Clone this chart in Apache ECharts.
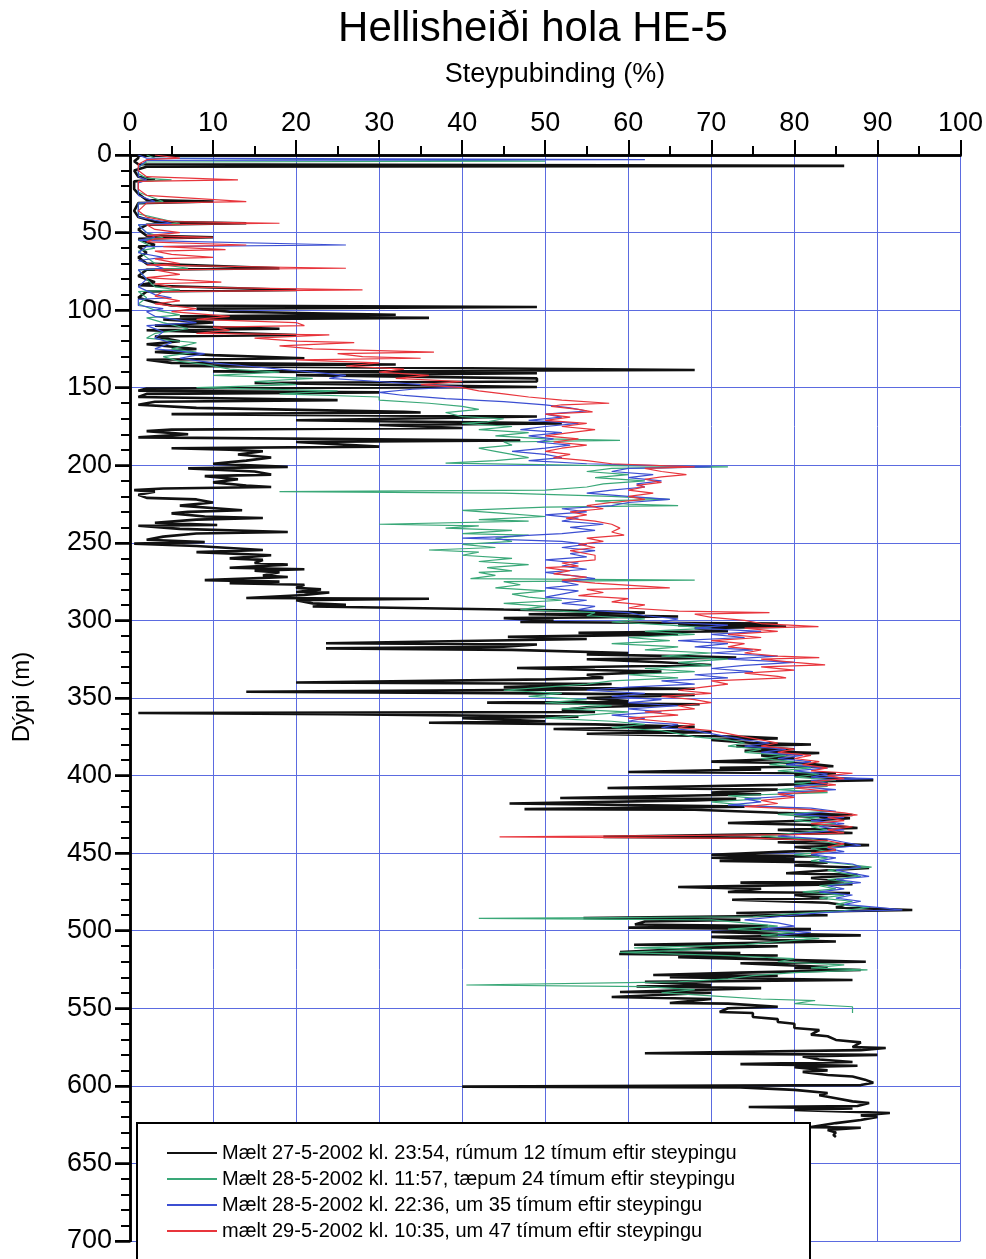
<!DOCTYPE html>
<html><head><meta charset="utf-8">
<script src="https://cdn.jsdelivr.net/npm/echarts@6/dist/echarts.min.js"></script>
<style>html,body{margin:0;padding:0;background:#fff}#c{width:986px;height:1259px}</style>
</head><body><div id="c"></div>
<script>
const title = 'Hellisheiði hola HE-5';
const xTitle = 'Steypubinding (%)';
const yTitle = 'Dýpi (m)';
const seriesNames = [
  'Mælt 27-5-2002 kl. 23:54, rúmum 12 tímum eftir steypingu',
  'Mælt 28-5-2002 kl. 11:57, tæpum 24 tímum eftir steypingu',
  'Mælt 28-5-2002 kl. 22:36, um 35 tímum eftir steypingu',
  'mælt 29-5-2002 kl. 10:35, um 47 tímum eftir steypingu'
];
// [depth (m), bond (%)]
const black = [[0,1],[2,1],[4,0.5],[6,1],[7,86],[7.5,2],[10,0.5],[14,1],[16,3],[17,0.5],[22,0.5],[25,1],[29,2],[30,10],[31,1],[36,0.5],[40,1],[43,3],[44,14],[45,2],[48,1],[52,2],[53,10],[54,1],[58,3],[59,1],[63,2],[66,1],[70,2],[73,18],[74,2],[78,1],[82,3],[84,1],[87,20],[88,2],[92,1],[95,3],[97,5],[98,49],[99,8],[101,12],[103,32],[104,6],[105,36],[106,4],[108,10],[110,3],[112,18],[113,2],[116,20],[117,3],[120,6],[122,2],[125,8],[127,3],[129,10],[131,21],[132,2],[134,5],[135,32],[136,6],[138.6,68],[139.5,10],[140.7,49],[142,20],[144,49],[146,49],[147,15],[149.5,49],[150.5,2],[152,1],[153,30],[154,2],[156,1],[158,25],[159,3],[161,1],[163,8],[165.6,33],[166,35],[167,5],[168.6,49],[169.6,48.8],[171,20],[173,52],[174,30],[176,40],[177,5],[178,2],[180,7],[182,1],[184,47],[185,20],[188,30],[189,5],[190,12],[191,16],[193,13],[195,17],[197,14],[199,10],[201,19],[202,7],[204,15],[206,17],[207,9],[209,13],[211,10],[213,14],[214,17],[215,4],[216,0.5],[217,3],[219,1],[221,2],[222,8],[224,10],[226,6],[229,13.5],[230,7],[231,5],[233,9],[234,16],[235,8],[237,3],[238.5,10.5],[239,1],[241,6],[243,19],[244,8],[246,4],[248,2],[249.5,9],[250.5,0.5],[252,8],[254.6,16],[256,8],[258,17],[260,12],[261,16],[263,15],[264,19],[266,12],[267,21],[268,15],[269,18],[271,16],[272,19],[274,9],[275,18],[276,12],[277,21],[279,20],[280,23],[281.7,20],[282,24],[283.6,21],[285.5,14],[286,36],[287,20],[289,22],[290,26],[291,22],[293,45],[293.5,51],[295,62],[296,48],[297.5,66],[298.5,45],[300,51],[301,47],[302,78],[303,66],[304,79],[305,68],[307,72],[308,54],[309,66],[310.6,45.5],[312,55],[314.7,23.6],[315.5,49],[317,45],[318,23.6],[319,46],[321,60],[322,55],[323,66],[324,73],[325,55],[327,64],[328.7,70],[330,55],[330.7,46.6],[332,56],[333,64],[335,55],[337,57],[338,50],[340,20],[341,58],[343,45],[344,68],[346,14],[347,49],[348,68],[350,55],[352,60],[353,43],[354,68.6],[356,55],[357.7,52],[359,56],[359.7,1],[360.5,25],[362,54],[363,40],[365,50],[366,36],[367,56],[368.6,68],[370,51],[372,70],[373,55],[375,74],[376,78],[377,70],[379,75],[380,82],[381,73],[383,80],[384,74],[385.5,83],[387,76],[389,80],[391,70],[392,81],[394,84.7],[395,71],[396,76],[397.7,60],[398.5,85],[400,80],[401,83],[403,89.5],[404,80],[405,84],[406,78],[408,57.5],[409,78],[411,70],[412,76],[414.5,51.8],[415,73],[416,68],[418,45.7],[419,60],[420,74],[421.6,47.5],[422,68],[424,78],[425.4,87],[426,80],[427.5,86.7],[429,82],[430.6,72],[432,84],[433.8,87.6],[435,78],[437,87],[438,74],[439.5,57],[440,74],[441.5,84],[443,78],[444.8,89],[446,80],[448,85],[449,79],[451,70],[452,83],[453,70],[454,80],[455,71],[456,84],[458,80],[459.6,89],[461,84],[463,79],[464,87.6],[466,82],[468,86],[469,73.5],[470,87],[471.8,66],[473,76],[475,72],[475.7,86.7],[477,80],[479,84],[480,72.5],[482,84],[483.4,86],[485,85],[486.6,94.2],[487.5,85],[488.6,73],[490,84],[491.8,54.6],[493,73.5],[494,62],[496,60.8],[497,76.8],[498,60],[499,82],[500.8,70],[502,78],[503,88],[504,70],[506,78],[507,85],[509,60.7],[510,78],[511,70],[513.7,59],[514.4,73.5],[515,58.9],[516,78],[517,66],[518,73],[520,88.6],[521,73.5],[523.4,84],[524,80],[525.3,88],[527,73.5],[528.5,63],[529,78],[530,65],[531.8,87],[533,62],[535,70],[536,61],[537,76],[539.5,59],[540,70],[542.7,58],[544,70],[546.6,65],[547,72],[549,78],[550,72],[552.4,71],[553,75],[555.6,75],[557,78],[558.8,78],[560,80],[562.7,80],[564,83],[567,82],[568,84],[570.4,85],[572,88],[575,87],[575.6,91],[577,88],[579,62],[580,90],[581,81],[583,83],[584.6,87],[586,73.5],[587,87.6],[588,80],[590,84],[591,81],[593,84],[594,87],[596,88.5],[598,89.5],[599.5,88],[600.5,40],[601,73.5],[602.6,80],[604.6,84],[606,83],[608,85],[610,87],[611,89],[613,87.6],[613.6,74.5],[614.5,87],[615.5,80],[617.5,91.5],[619,88],[620,90],[622,88],[624,85],[626.6,82],[627,88],[628.5,84],[630,85],[631.7,84.7],[633,85]];
const green = [[0,2],[2,3],[4,50],[4.5,2],[8,1],[12,1],[15,2],[16,5],[17,1],[24,1],[30,4],[31,1],[38,1],[44,6],[45,1],[50,2],[53,4],[55,1],[60,3],[62,1],[66,2],[70,3],[73,7],[74,1],[80,2],[85,3],[87,6],[88,1],[92,2],[96,1],[100,3],[103,6],[105,2],[108,4],[112,7],[115,3],[118,2],[121,8],[125,5],[127,8],[130,4],[133,6],[135,9],[138,12],[140,18],[142,10],[144,22],[146,15],[148,20],[150,8],[152,25],[154,18],[156,30],[158,30],[160,36],[162,40],[164,42],[166,38],[168.6,40],[170,45],[172,43],[173,40],[175,46],[177,42],[179,48],[181,44],[183,50],[184,59],[185,45],[187,46],[189,42],[191,44],[193,46],[195,48],[197,44],[198.6,38],[200,55],[201,72],[202,58],[204,55],[206,60],[208,56],[210,62],[212,57],[214,55],[216,50],[217,18],[218,45],[220,58],[222,65],[223,56],[225,60],[226,66],[227,50],[229,40],[231,45],[233,50],[235,42],[236,48],[238,30],[239,42],[240.5,38],[242,46],[244,40],[245,48],[247,44],[249,46],[251,40],[253,44],[254.6,36],[256,42],[258,40],[260,46],[262,42],[264,48],[266,43],[268,46],[269,42],[271,44],[273,41],[274,68],[275,45],[277,47],[279,44],[281,50],[283,46],[285,48],[287,52],[289,45],[291,50],[293,47],[295,56],[297,55],[299,62],[301,58],[303,65],[305,70],[307,62],[309,68],[311,60],[313,65],[315,58],[317,66],[319,62],[321,70],[323,64],[325,72],[327,66],[329,70],[331,62],[333,68],[335,60],[337,66],[339,58],[341,55],[343,50],[345,45],[347,52],[349,48],[351,55],[353,50],[355,58],[357,52],[359,60],[361,55],[363,50],[365,58],[367,62],[369,58],[371,64],[373,66],[375,68],[377,72],[379,74],[381,72],[383,76],[385,74],[387,79],[389,76],[391,80],[393,77],[395,82],[397,78],[399,83],[401,80],[403,85],[405,80],[407,84],[409,78],[411,84],[413,72],[415,76],[417,70],[419,74],[421,80],[423,84],[425,78],[427,83],[429,80],[431,85],[433,82],[435,84],[437,80],[439,76],[441,82],[443,84],[445,86],[447,82],[449,84],[451,80],[453,84],[455,82],[457,86],[459,89.3],[461,84],[463,86],[465,88],[467,84],[469,87],[471,83],[473,85],[475,81],[477,86],[479,83],[481,87],[483,85],[485,89],[487,86],[489,80],[491,75],[492,42],[493,70],[495,74],[497,78],[499,72],[501,80],[503,76],[505,83],[507,78],[509,74],[511,60.7],[512,70],[514,59],[516,72],[518,80],[520,78],[522,86],[524,82],[525.3,88.8],[527,80],[529,75],[531,72],[533,66],[535,40.5],[536,62],[538,68],[540,64],[542,70],[544,76],[545,82.5],[547,80],[549,87],[553,87]];
const blue = [[0,1],[2,2],[3,62],[3.5,2],[8,1],[14,1],[16,2],[18,1],[26,1],[30,3],[31,1],[40,1],[44,5],[45,1],[50,2],[53,3],[55,1],[58,26],[59,2],[63,1],[66,4],[68,1],[73,4],[74,1],[80,2],[85,1],[90,3],[92,5],[93,1],[97,1],[99,4],[101,2],[104,3],[108,8],[110,2],[114,4],[118,3],[121,5],[125,3],[128,9],[131,6],[134,10],[136,14],[138,18],[140,22],[142,26],[144,24],[146,30],[148,35],[149.5,40],[151,34],[153,30],[155,33],[157,38],[159,45],[161,50],[163,53],[165,55],[167,50],[169,52],[171,48],[173,54],[175,50],[177,47],[179,52],[181,48],[183,51],[185,49],[187,53],[189,50],[191,46],[193,50],[195,52],[197,48],[199,55],[201,70],[202,60],[204,58],[206,63],[208,60],[210,64],[212,61],[214,62],[216,58],[218,55],[220,60],[222,65],[224,60],[226,58],[228,52],[230,55],[232,50],[234,54],[236,52],[238,57],[240,53],[242,56],[244,52],[246,45],[247,40],[249,52],[251,55],[253,52],[255,56],[257,53],[259,55],[261,50],[263,54],[265,52],[267,55],[269,50],[271,53],[273,56],[275,52],[277,54],[279,50],[281,54],[283,52],[285,50],[287,55],[289,52],[291,56],[293,54],[295,60],[297,62],[299,66],[301,64],[303,72],[305,68],[307,76],[309,70],[311,74],[313,66],[315,72],[317,68],[319,75],[321,70],[323,78],[325,72],[327,80],[329,74],[331,70],[333,75],[335,68],[337,72],[339,64],[341,68],[343,60],[345,55],[347,62],[349,58],[351,64],[353,60],[355,66],[357,60],[359,64],[361,58],[363,62],[365,60],[367,66],[369,64],[371,68],[373,70],[375,72],[377,74],[379,77],[381,74],[383,79],[385,76],[387,81],[389,78],[391,82],[393,79],[395,84],[397,80],[399,84],[401,82],[402,89.5],[403,82],[405,84],[407,80],[409,85],[411,78],[413,80],[415,74],[417,76],[419,72],[421,82],[423,85],[425,80],[427,86],[429,82],[431,86],[433,83],[435,86],[437,81],[439,78],[441,84],[443,86],[445,88],[447,84],[449,86],[451,82],[453,85],[455,83],[457,87],[459,88],[461,85],[463,87],[465,89],[467,85],[469,88],[471,84],[473,86],[475,83],[477,87],[479,85],[481,88],[483,86],[485,90],[486.6,93],[487.5,86],[489,82],[491,78],[493,74],[495,78],[497,80],[499,76],[501,82],[503,78]];
const red = [[0,3],[2,6],[3,2],[6,1],[10,1],[14,2],[16,13],[17,1],[22,1],[26,2],[30,14],[31,2],[36,1],[40,2],[43,5],[44,18],[45,2],[48,3],[50,6],[52,2],[53,10],[54,3],[56,2],[58,14],[59,4],[61,11.5],[62,3],[64,5],[66,10],[67,3],[70,6],[71,2],[73,26],[74,3],[77,6],[79,2],[82,11],[83,3],[85,5],[87,28],[88,4],[91,3],[94,6],[96,3],[99,8],[101,5],[104,12],[106,8],[108,20],[110,21],[111,10],[113,12],[115,8],[116,24],[118,15],[120,20],[121,27],[123,18],[125,22],[127,36.6],[128,25],[130,28],[131,35],[132,20],[134,30],[136,26],[138,33],[140,30],[142,36],[144,32],[146,40],[148,35],[150,40],[152,42],[154,45],[156,48],[158,52],[160,57.7],[161,52],[162,50.7],[164,54],[165.6,55.7],[167,50],[169,53],[171,50],[173,55],[175,52],[177,56],[179,53],[181,50],[183,54],[185,51],[187,55],[189,52],[191,50],[193,53],[195,51],[197,55],[199,58],[201,68],[202,62],[204,64],[206,67],[207.5,64],[209,62],[211,64],[213,61],[214,62],[216,60],[218,63],[220,60],[222,62],[224,58],[226,55],[228,57],[230,53],[232,55],[234,52.5],[236,56],[238,58],[240.5,59],[243,58],[245,59.5],[247,55],[249,57],[251,54],[253,56],[255,53],[258,56],[261,56],[263,52],[265,54],[266,50],[268,53],[270,51],[272,55],[274,52],[276,56],[279,65],[280,55],[282,57],[284,54],[286,60],[288,58],[290,62],[292,60],[294,66],[295,77],[296,68],[298,70],[300,74],[302,76],[304,82.9],[305,74],[307,78],[309,72],[311,76],[313,70],[315,74],[317,72],[319,76],[321,74],[323,78],[324,83],[325,76],[327,80],[328.7,83.7],[330,76],[332,80],[334,74],[336,78],[337,79],[339,70],[341,72],[343,69],[345,66],[347,70],[349,64],[351,68],[353,70],[355,66],[357,68],[359,62],[361,66],[363,60],[365,64],[367,68],[369,66],[371,70],[373,72],[375,74],[377,76],[379,78],[381,76],[383,80],[385,78],[387,82],[389,80],[391,83],[393,81],[395,84],[397,82],[398.5,87],[400,84],[402,86],[404,82],[406,85],[408,80],[410,84],[412,78],[414,80],[416,76],[418,78],[420,74],[422,82],[424,86],[425.4,87.6],[427,84],[429,86],[431,82],[433,87],[435,84],[437,86],[438,80],[439.5,44.5],[440.5,76],[442,84],[444,86],[446,84],[448,85],[450,82]];

const colors = ['#111111', '#3aa878', '#3c4fd2', '#e8353c'];
const widths = [2.6, 1.2, 1.2, 1.2];
const allData = [black, green, blue, red];
const FONT = '"Liberation Sans", Arial, sans-serif';
const gridColor = '#5b6be0';

const chart = echarts.init(document.getElementById('c'), null, {renderer: 'canvas'});
const axisBase = {
  type: 'value',
  axisLine: {show: true, lineStyle: {color: '#000', width: 2.5}},
};
chart.setOption({
  animation: false,
  backgroundColor: '#fff',
  grid: {left: 130, right: 18, top: 155, bottom: 18, containLabel: false},
  xAxis: [
    Object.assign({}, axisBase, {position: 'top', min: 0, max: 100, interval: 10,
      axisTick: {show: true, inside: false, length: 15, lineStyle: {color: '#000', width: 2}},
      minorTick: {show: true, splitNumber: 2, length: 9, lineStyle: {color: '#000', width: 2}},
      axisLabel: {fontSize: 27, color: '#000', margin: 18, fontFamily: FONT},
      splitLine: {show: true, lineStyle: {color: gridColor, width: 1}}}),
    Object.assign({}, axisBase, {position: 'bottom', min: 0, max: 100, interval: 10,
      axisTick: {show: true, inside: true, length: 14, lineStyle: {color: '#000', width: 2}},
      minorTick: {show: true, splitNumber: 2, length: 9, lineStyle: {color: '#000', width: 2}},
      axisLabel: {show: false}, splitLine: {show: false}})
  ],
  yAxis: [
    Object.assign({}, axisBase, {position: 'left', inverse: true, min: 0, max: 700, interval: 50,
      axisTick: {show: true, inside: false, length: 15, lineStyle: {color: '#000', width: 2}},
      minorTick: {show: true, splitNumber: 5, length: 8, lineStyle: {color: '#000', width: 2}},
      axisLabel: {fontSize: 27, color: '#000', margin: 18, fontFamily: FONT},
      splitLine: {show: true, lineStyle: {color: gridColor, width: 1}}}),
    Object.assign({}, axisBase, {position: 'right', inverse: true, min: 0, max: 700, interval: 50,
      axisTick: {show: true, inside: true, length: 15, lineStyle: {color: '#000', width: 2.5}},
      minorTick: {show: true, splitNumber: 5, length: 9, lineStyle: {color: '#000', width: 2}},
      axisLabel: {show: false}, splitLine: {show: false}})
  ],
  legend: {
    show: true, orient: 'vertical', left: 167, top: 1143, padding: 0, itemGap: 6,
    itemWidth: 50, itemHeight: 2, z: 20,
    icon: 'path://M0,0H50V2H0Z',
    textStyle: {fontSize: 20, color: '#000', fontFamily: FONT},
    data: seriesNames
  },
  graphic: [
    {type: 'text', z: 10, x: 533, y: 29,
      style: {text: title, font: '42px ' + FONT, fill: '#000', textAlign: 'center', textVerticalAlign: 'middle'}},
    {type: 'text', z: 10, x: 555, y: 75,
      style: {text: xTitle, font: '27px ' + FONT, fill: '#000', textAlign: 'center', textVerticalAlign: 'middle'}},
    {type: 'text', z: 10, x: 22, y: 697, rotation: Math.PI / 2,
      style: {text: yTitle, font: '24px ' + FONT, fill: '#000', textAlign: 'center', textVerticalAlign: 'middle'}},
    {type: 'rect', z: 15, shape: {x: 137, y: 1123, width: 673, height: 145},
      style: {fill: '#fff', stroke: '#000', lineWidth: 2}}
  ],
  series: allData.map((arr, i) => ({
    name: seriesNames[i], type: 'line', xAxisIndex: 0, yAxisIndex: 0,
    symbol: 'none', showSymbol: false, sampling: null, silent: true, z: 2 + i,
    lineStyle: {color: colors[i], width: widths[i]},
    itemStyle: {color: colors[i]},
    data: arr.map(p => [p[1], p[0]])
  }))
});
</script></body></html>
